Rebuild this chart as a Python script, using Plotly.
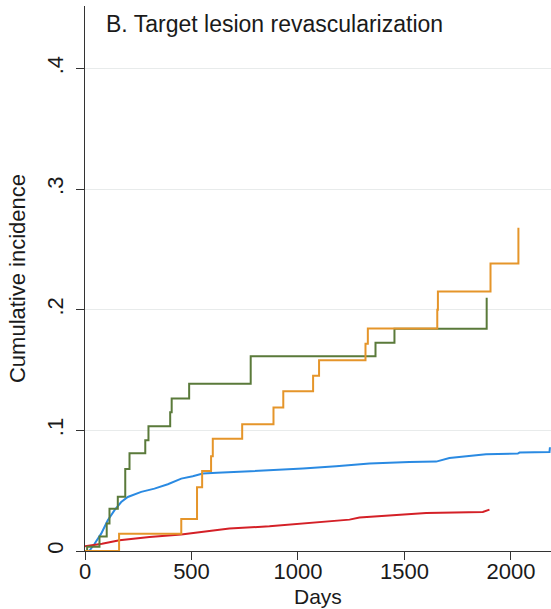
import plotly.graph_objects as go

# Cumulative incidence of target lesion revascularization, four groups
green_days = [0, 10, 68, 102, 115, 154, 189, 209, 283, 298, 400, 407, 489, 778, 1364, 1453, 1886]
green_vals = [0, 0.0035, 0.012, 0.0227, 0.035, 0.045, 0.068, 0.081, 0.0917, 0.1033, 0.115, 0.1263,
              0.1387, 0.1615, 0.1727, 0.1841, 0.2098]

orange_days = [0, 160, 452, 526, 550, 592, 600, 738, 885, 931, 1071, 1099, 1317, 1328, 1654, 1657, 1904, 2035]
orange_vals = [0, 0.0144, 0.0265, 0.0529, 0.0663, 0.0785, 0.0930, 0.1050, 0.1190, 0.1324, 0.1452,
               0.1581, 0.1718, 0.1844, 0.2000, 0.2150, 0.2383, 0.2680]

blue_days = [0, 20, 45, 76, 107, 138, 170, 201, 264, 326, 389, 452, 506, 553, 620, 710, 819, 960,
             1023, 1179, 1336, 1523, 1649, 1711, 1883, 2032, 2040, 2181, 2183]
blue_vals = [0, 0.0, 0.006, 0.0144, 0.0255, 0.0337, 0.0406, 0.0448, 0.049, 0.0517, 0.0553, 0.06,
             0.062, 0.0642, 0.0648, 0.0655, 0.0669, 0.0675, 0.0683, 0.0702, 0.0725, 0.0738, 0.0741,
             0.0771, 0.0802, 0.0808, 0.0816, 0.0821, 0.086]

red_days = [0, 80, 162, 303, 452, 514, 616, 678, 866, 976, 1242, 1289, 1602, 1868, 1899]
red_vals = [0.004, 0.006, 0.0089, 0.0116, 0.0137, 0.0149, 0.0172, 0.0186, 0.0205, 0.0222, 0.026,
            0.0277, 0.0315, 0.0323, 0.0343]

y_ticks = [0, 0.1, 0.2, 0.3, 0.4]
y_tick_text = ["0", ".1", ".2", ".3", ".4"]
x_ticks = [0, 500, 1000, 1500, 2000]

FONT = "Arial, Liberation Sans, sans-serif"
INK = "#1a1a1a"
AXIS = "#333333"

fig = go.Figure()
fig.add_trace(go.Scatter(x=blue_days, y=blue_vals, mode="lines",
                         line=dict(color="#2a8ae2", width=2)))
fig.add_trace(go.Scatter(x=red_days, y=red_vals, mode="lines",
                         line=dict(color="#d42027", width=2)))
fig.add_trace(go.Scatter(x=green_days, y=green_vals, mode="lines",
                         line=dict(color="#5a7a3a", width=2, shape="hv")))
fig.add_trace(go.Scatter(x=orange_days, y=orange_vals, mode="lines",
                         line=dict(color="#e5952a", width=2, shape="hv")))

fig.update_layout(
    width=551, height=609,
    margin=dict(l=85, r=0, t=6, b=58),
    plot_bgcolor="white", paper_bgcolor="white",
    showlegend=False,
    font=dict(family=FONT, color=INK, size=22),
    xaxis=dict(
        range=[0, 2188], tickvals=x_ticks, ticks="outside", ticklen=1,
        tickcolor=AXIS, showline=True, linecolor=AXIS, linewidth=1,
        showgrid=False, zeroline=False, automargin=False,
        # longer tick marks drawn at the same positions as the labelled ticks
        minor=dict(tickvals=x_ticks, ticks="outside", ticklen=8, tickcolor=AXIS, showgrid=False),
        tickfont=dict(size=22, family=FONT, color=INK),
    ),
    yaxis=dict(
        range=[0, 0.4517], tickvals=y_ticks, ticktext=y_tick_text, tickangle=-90,
        ticks="outside", ticklen=8, tickcolor=AXIS,
        showline=True, linecolor=AXIS, linewidth=1,
        showgrid=True, gridcolor="#e8ebeb", gridwidth=1, zeroline=False, automargin=False,
        tickfont=dict(size=22, family=FONT, color=INK),
        ticklabelstandoff=4,
        title=dict(text="Cumulative incidence", font=dict(size=22, family=FONT, color=INK), standoff=11),
    ),
    annotations=[
        dict(text="B. Target lesion revascularization", xref="paper", yref="paper",
             x=(104 - 85) / 466, y=(551 - 24) / 545, xanchor="left", yanchor="middle",
             showarrow=False, font=dict(size=23, family=FONT, color=INK)),
        dict(text="Days", xref="paper", yref="paper", x=0.5, y=-(609 - 551) / 545,
             xanchor="center", yanchor="bottom", showarrow=False, borderpad=0,
             font=dict(size=21, family=FONT, color=INK)),
    ],
)

fig.write_html("out.html")
